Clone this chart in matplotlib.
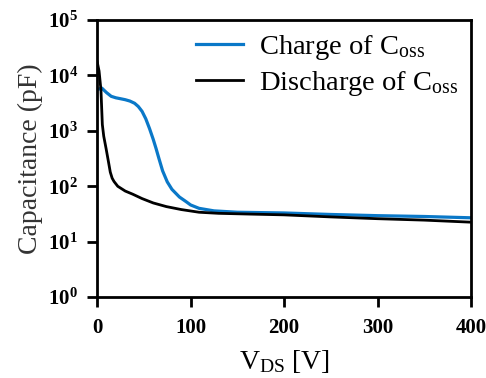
import matplotlib
matplotlib.use("Agg")
import matplotlib.pyplot as plt

plt.rcParams["font.family"] = "Liberation Serif"
plt.rcParams["mathtext.fontset"] = "custom"
plt.rcParams["mathtext.rm"] = "Liberation Serif"
plt.rcParams["mathtext.bf"] = "Liberation Serif:bold"

# Ladung von Coss (blau)
v_charge = [2, 5, 10, 15, 20, 25, 30, 35, 40, 44, 48, 52, 56, 60, 63, 66, 70,
            75, 80, 88, 95, 100, 109, 125, 150, 200, 250, 300, 350, 400]
c_charge = [5700, 5900, 4900, 4200, 3950, 3800, 3650, 3450, 3150, 2750, 2250,
            1650, 1100, 700, 480, 320, 190, 120, 88, 64, 53, 46, 40, 36, 34,
            33, 31, 29.5, 28.5, 27]

# Entladung von Coss (schwarz)
v_discharge = [0, 2, 4, 5.5, 7, 9.5, 12, 14, 16, 18, 22, 30, 38, 48, 60, 74,
               90, 109, 130, 163, 200, 250, 300, 350, 400]
c_discharge = [17500, 12000, 5500, 1300, 800, 480, 280, 180, 140, 122, 100,
               82, 72, 60, 50, 43, 38, 34, 32.5, 31.5, 30.5, 28, 26, 24.5, 22.5]

x_ticks = [0, 100, 200, 300, 400]
y_ticks = [1, 10, 100, 1000, 10000, 100000]
y_labels = [r"$\mathbf{10^{%d}}$" % i for i in range(6)]

fig = plt.figure(figsize=(4.86, 3.78), dpi=100)
ax = fig.add_axes([0.2, 0.214, 0.769, 0.733])

ax.plot(v_charge, c_charge, color="#0A78C8", lw=2.3,
        label=r"Charge of C$\mathregular{_{oss}}$")
ax.plot(v_discharge, c_discharge, color="black", lw=2.0,
        label=r"Discharge of C$\mathregular{_{oss}}$")

ax.set_yscale("log")
ax.set_xlim(0, 400)
ax.set_ylim(1, 1e5)
ax.set_xticks(x_ticks)
ax.set_xticklabels([str(t) for t in x_ticks], fontweight="bold", fontsize=15)
ax.set_yticks(y_ticks)
ax.set_yticklabels(y_labels, fontsize=15)
ax.minorticks_off()
ax.tick_params(direction="out", length=7, width=2)
ax.tick_params(axis="x", pad=8)
ax.tick_params(axis="y", pad=7)

for s in ax.spines.values():
    s.set_linewidth(2)

ax.set_ylabel("Capacitance (pF)", fontsize=20, labelpad=3, color="#333333")
ax.set_xlabel(r"V$\mathregular{_{DS}}$ [V]", fontsize=20, labelpad=7)

ax.legend(loc="upper right", bbox_to_anchor=(1.0, 1.0), frameon=False,
          fontsize=20.5, handlelength=1.65, handletextpad=0.56, labelspacing=0.25,
          borderaxespad=0.05)

fig.savefig("out.png", dpi=100)
